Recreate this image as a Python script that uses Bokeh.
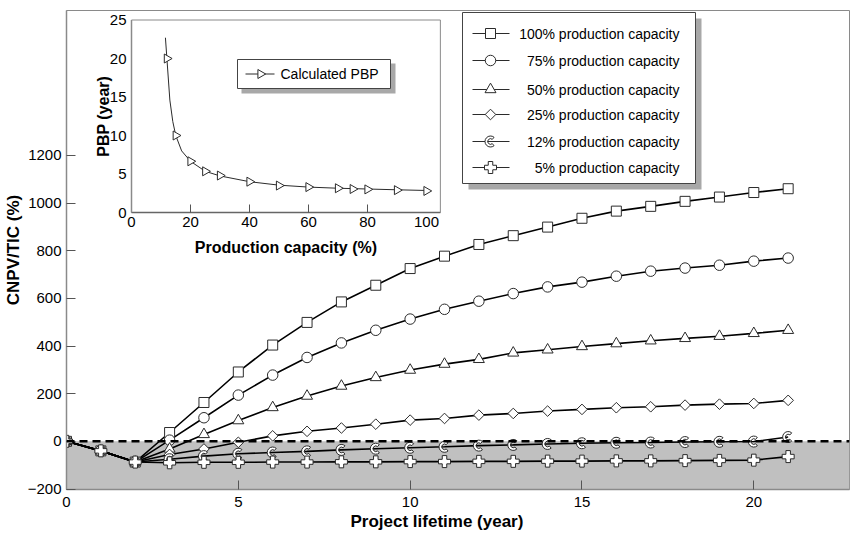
import math
from bokeh.plotting import figure
from bokeh.models import Range1d, FixedTicker, BoxAnnotation, Span, Title
from bokeh.core.properties import value
from bokeh.embed import file_html
from bokeh.resources import INLINE

# ---------------- data ----------------
years = list(range(22))
cnpv_100 = [0, -40, -87, 37, 163, 291, 404, 499, 585, 655, 725, 777, 826, 863, 899, 936, 966, 986, 1007, 1025, 1044, 1060]
cnpv_75 = [0, -40, -87, 5, 99, 194, 278, 352, 413, 466, 513, 554, 588, 620, 648, 668, 693, 714, 727, 739, 756, 769]
cnpv_50 = [0, -40, -87, -32, 29, 87, 142, 190, 232, 268, 299, 324, 344, 371, 384, 398, 410, 422, 432, 441, 453, 466]
cnpv_25 = [0, -40, -87, -55, -32, -4, 23, 42, 56, 72, 89, 96, 110, 117, 127, 134, 141, 145, 152, 156, 159, 172]
cnpv_12 = [0, -40, -87, -75, -62, -52, -47, -42, -36, -31, -27, -23, -18, -15, -11, -8, -6, -5, -3, -2, -1, 18]
cnpv_5 = [0, -40, -87, -90, -88, -88, -87, -87, -86, -86, -85, -85, -84, -84, -83, -83, -82, -82, -81, -80, -79, -64]
series_labels = ["100% production capacity", "75% production capacity", "50% production capacity",
                 "25% production capacity", "12% production capacity", "5% production capacity"]
x_ticks = [0, 5, 10, 15, 20]
y_ticks = [-200, 0, 200, 400, 600, 800, 1000, 1200]
x_title = "Project lifetime (year)"
y_title = "CNPV/TIC (%)"

inset_capacity = [12, 15, 20, 25, 30, 40, 50, 60, 70, 75, 80, 90, 100]
inset_pbp = [20.0, 10.0, 6.65, 5.35, 4.8, 4.0, 3.5, 3.3, 3.15, 3.05, 3.0, 2.9, 2.8]
pbp_curve_capacity = [11.5, 12, 13, 14, 15, 17, 20, 25, 30, 40, 50, 60, 70, 80, 90, 101]
pbp_curve_pbp = [22.7, 20.0, 14.6, 11.8, 10.0, 8.0, 6.65, 5.35, 4.75, 4.0, 3.55, 3.3, 3.15, 3.05, 2.95, 2.85]
inset_x_ticks = [0, 20, 40, 60, 80, 100]
inset_y_ticks = [0, 5, 10, 15, 20, 25]
inset_label = "Calculated PBP"
inset_x_title = "Production capacity (%)"
inset_y_title = "PBP (year)"

# ---------------- layout (page pixels) ----------------
W, H = 851, 537
FL, FR, FT, FB = 66, 849, 10, 489
FONT = "Liberation Sans"
INK = "#2b2b2b"


def lin_range(p0, p1, v0, v1, lo, hi):
    s = (p1 - p0) / (v1 - v0)
    return Range1d(v0 + (lo - p0) / s, v0 + (hi - p0) / s), s


x_rng, sx_main = lin_range(FL, 753.3, 0, 20, FL, FR)
y_rng, sy_main = lin_range(FB, 155, -200, 1200, FB + 0.5, FT)

p = figure(width=W, height=H, output_backend="svg", toolbar_location=None, title=None,
           x_range=x_rng, y_range=y_rng,
           min_border_left=FL, min_border_right=W - FR,
           min_border_top=FT, min_border_bottom=H - FB)
p.background_fill_color = "white"
p.border_fill_color = "white"
p.outline_line_color = "#8a8a8a"
p.outline_line_width = 1
p.grid.visible = False

# inset ranges and pixel ranges for decorations
ix_rng, sx_in = lin_range(131, 426, 0, 100, FL, FR)
iy_rng, sy_in = lin_range(212, 19.5, 0, 25, FB, FT)
p.extra_x_ranges = {"ix": ix_rng, "lx": Range1d(0, FR - FL)}
p.extra_y_ranges = {"iy": iy_rng, "ly": Range1d(FB - FT, 0)}


def lx(v):
    return v - FL


def ly(v):
    return v - FT


# axes
for ax in (p.xaxis[0], p.yaxis[0]):
    ax.axis_line_color = "#8a8a8a"
    ax.axis_line_width = 1.5
    ax.major_tick_line_color = "#555555"
    ax.major_tick_in = 9
    ax.major_tick_out = 0
    ax.minor_tick_line_color = None
    ax.major_label_text_font = FONT
    ax.major_label_text_font_size = "15px"
    ax.major_label_text_color = "black"
    ax.axis_label_text_font = FONT
    ax.axis_label_text_font_size = "17px"
    ax.axis_label_text_font_style = "bold"
    ax.axis_label_text_color = "black"
p.xaxis.ticker = FixedTicker(ticks=x_ticks)
p.yaxis.ticker = FixedTicker(ticks=y_ticks)
p.yaxis.axis_label = y_title
p.xaxis.major_label_standoff = 7
p.yaxis.major_label_standoff = 5
p.yaxis.axis_label_standoff = 2

x_title_obj = Title(text=x_title, align="left", offset=350 - FL, standoff=0,
                    text_font=FONT, text_font_size="17px", text_font_style="bold",
                    text_color="black")
p.add_layout(x_title_obj, "below")

# gray negative region and zero line
p.add_layout(BoxAnnotation(top=0, fill_color="#c0c0c0", fill_alpha=1.0, line_color=None, level="underlay"))
p.add_layout(Span(location=0, dimension="width", line_color="black", line_width=2.5, line_dash="8 5"))

mk = dict(fill_color="white", line_color=INK, line_width=1)
series = [cnpv_100, cnpv_75, cnpv_50, cnpv_25, cnpv_12, cnpv_5]
for vals in series:
    p.line(years, vals, line_color="black", line_width=1.6)

p.scatter(years, cnpv_100, marker="square", size=10, **mk)
p.scatter(years, cnpv_75, marker="circle", size=10.5, **mk)
p.scatter(years, cnpv_50, marker="triangle", size=11, **mk)
p.scatter(years, cnpv_25, marker="square", angle=math.pi / 4, size=7.5, **mk)
p.annular_wedge(years, cnpv_12, inner_radius=2.8, outer_radius=5.5,
                inner_radius_units="screen", outer_radius_units="screen",
                start_angle=math.radians(50), end_angle=math.radians(310), **mk)
p.scatter(years, cnpv_5, marker="plus", size=12, **mk)

# ---------------- inset ----------------
p.quad(left=[0], right=[104.7], bottom=[0], top=[25], fill_color="white", line_color="#8a8a8a",
       line_width=1, x_range_name="ix", y_range_name="iy")
p.segment(x0=[0], y0=[0], x1=[104.7], y1=[0], line_color="#666666", line_width=1.5,
          x_range_name="ix", y_range_name="iy")
p.segment(x0=[0], y0=[0], x1=[0], y1=[25], line_color="#8a8a8a", line_width=1.5,
          x_range_name="ix", y_range_name="iy")
tick_len = 8 / abs(sy_in)
p.segment(x0=inset_x_ticks[1:-1], y0=[0] * 4, x1=inset_x_ticks[1:-1], y1=[tick_len] * 4,
          line_color="#555555", line_width=1, x_range_name="ix", y_range_name="iy")
p.text(x=inset_x_ticks, y=[0] * len(inset_x_ticks), text=[str(t) for t in inset_x_ticks],
       text_align="center", text_baseline="top", y_offset=4, text_font=value(FONT),
       text_font_size="15px", text_color="black", x_range_name="ix", y_range_name="iy")
p.text(x=[0] * len(inset_y_ticks), y=inset_y_ticks, text=[str(t) for t in inset_y_ticks],
       text_align="right", text_baseline="middle", x_offset=-5, text_font=value(FONT),
       text_font_size="15px", text_color="black", x_range_name="ix", y_range_name="iy")
p.text(x=[52.35], y=[0], text=[inset_x_title], text_align="center", text_baseline="top",
       y_offset=26, text_font=value(FONT), text_font_size="16px", text_font_style="bold",
       text_color="black", x_range_name="ix", y_range_name="iy")
p.text(x=[0], y=[12.5], text=[inset_y_title], angle=math.pi / 2, text_align="center",
       text_baseline="bottom", x_offset=-20, text_font=value(FONT), text_font_size="16px",
       text_font_style="bold", text_color="black", x_range_name="ix", y_range_name="iy")
p.line(pbp_curve_capacity, pbp_curve_pbp, line_color=INK, line_width=1,
       x_range_name="ix", y_range_name="iy")
p.scatter(inset_capacity, inset_pbp, marker="triangle", angle=-math.pi / 2, size=9,
          x_range_name="ix", y_range_name="iy", **mk)

# inset legend (pixel coordinates relative to frame)
p.quad(left=[lx(241)], right=[lx(395)], top=[ly(63)], bottom=[ly(93)], fill_color="#a8a8a8",
       line_color=None, x_range_name="lx", y_range_name="ly")
p.quad(left=[lx(237)], right=[lx(390)], top=[ly(59)], bottom=[ly(88)], fill_color="white",
       line_color="#444444", line_width=1, x_range_name="lx", y_range_name="ly")
p.segment(x0=[lx(245)], y0=[ly(73.5)], x1=[lx(274)], y1=[ly(73.5)], line_color=INK, line_width=1,
          x_range_name="lx", y_range_name="ly")
p.scatter([lx(260)], [ly(73.5)], marker="triangle", angle=-math.pi / 2, size=9,
          x_range_name="lx", y_range_name="ly", **mk)
p.text(x=[lx(280)], y=[ly(73.5)], text=[inset_label], text_align="left", text_baseline="middle",
       text_font=value(FONT), text_font_size="14px", text_color="black",
       x_range_name="lx", y_range_name="ly")

# main legend
rows = [ly(v) for v in [33, 60, 89, 114, 141, 167]]
p.quad(left=[lx(468)], right=[lx(701)], top=[ly(18)], bottom=[ly(189)], fill_color="#a8a8a8",
       line_color=None, x_range_name="lx", y_range_name="ly")
p.quad(left=[lx(462)], right=[lx(695)], top=[ly(12)], bottom=[ly(183)], fill_color="white",
       line_color="#444444", line_width=1, x_range_name="lx", y_range_name="ly")
p.segment(x0=[lx(472)] * 6, y0=rows, x1=[lx(509)] * 6, y1=rows, line_color=INK, line_width=1,
          x_range_name="lx", y_range_name="ly")
gx = lx(490)
lk = dict(x_range_name="lx", y_range_name="ly", **mk)
p.scatter([gx], [rows[0]], marker="square", size=10, **lk)
p.scatter([gx], [rows[1]], marker="circle", size=10.5, **lk)
p.scatter([gx], [rows[2]], marker="triangle", size=11, **lk)
p.scatter([gx], [rows[3]], marker="square", angle=math.pi / 4, size=7.5, **lk)
p.annular_wedge([gx], [rows[4]], inner_radius=2.8, outer_radius=5.5,
                inner_radius_units="screen", outer_radius_units="screen",
                start_angle=math.radians(50), end_angle=math.radians(310), **lk)
p.scatter([gx], [rows[5]], marker="plus", size=12, **lk)
p.text(x=[lx(679)] * 6, y=rows, text=series_labels, text_align="right", text_baseline="middle",
       text_font=value(FONT), text_font_size="14px", text_color="black",
       x_range_name="lx", y_range_name="ly")

open("out.html", "w").write(file_html(p, INLINE))
